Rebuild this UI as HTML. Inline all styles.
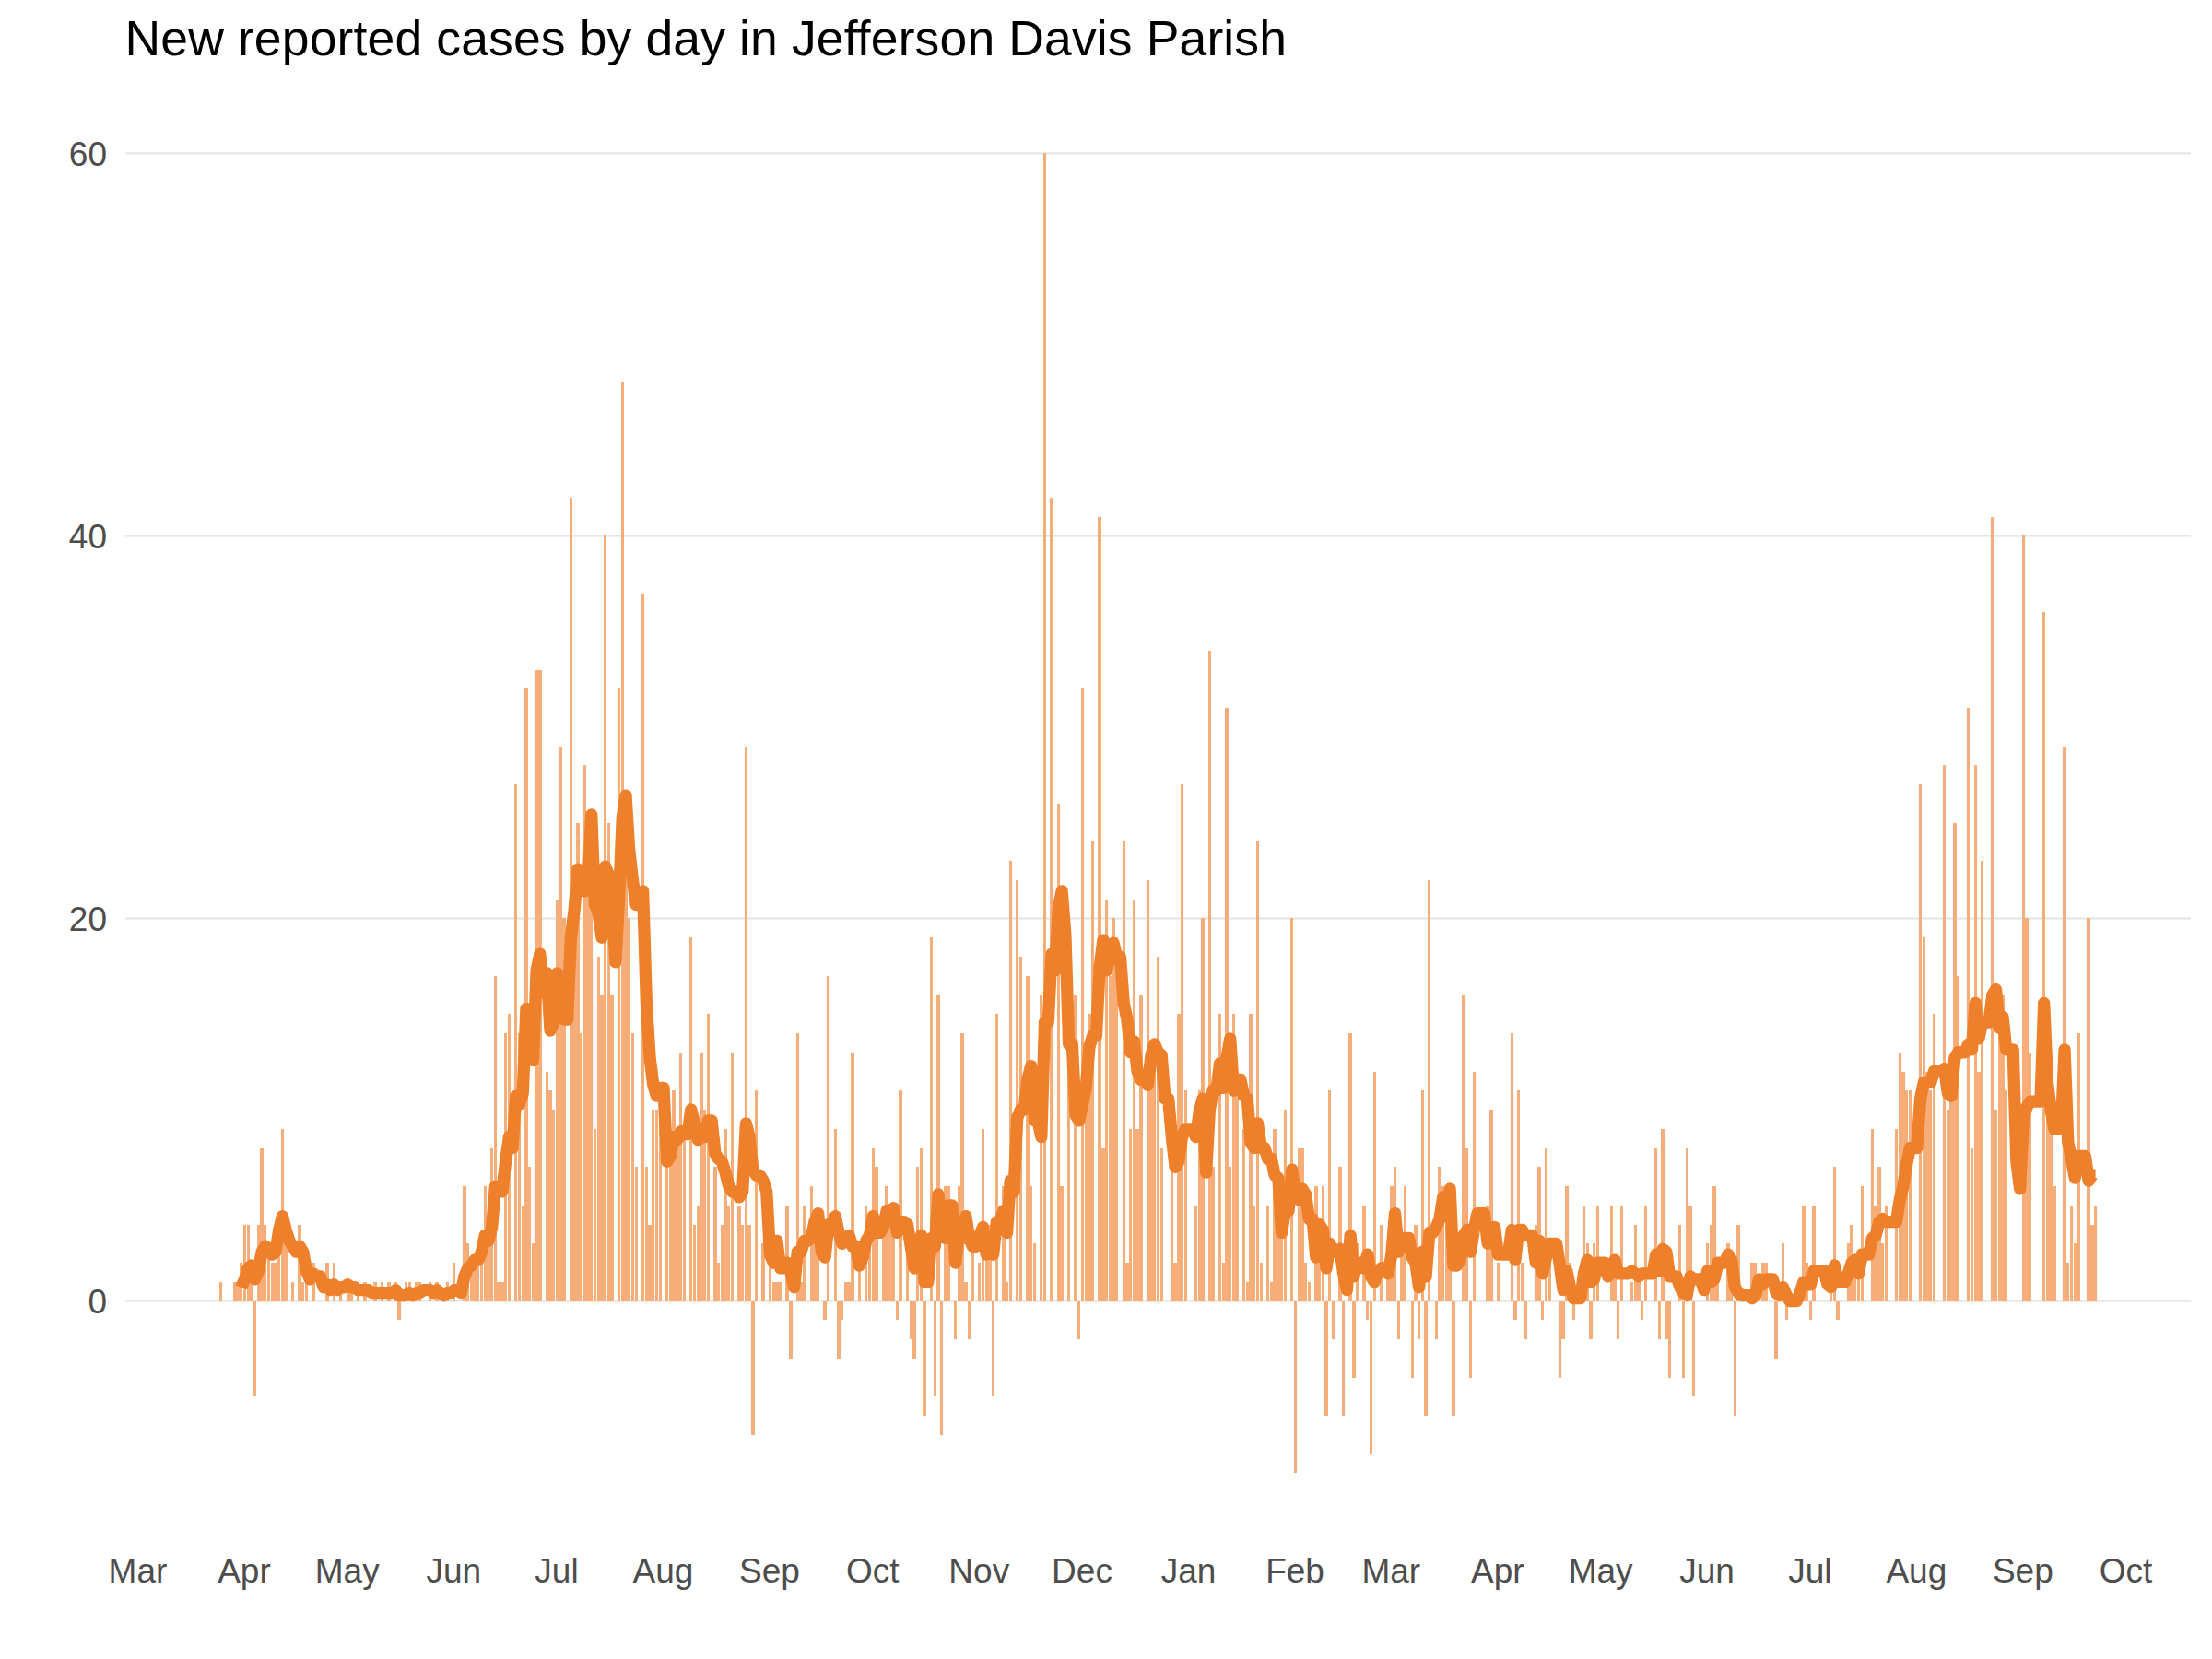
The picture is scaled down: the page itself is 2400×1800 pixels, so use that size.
<!DOCTYPE html>
<html><head><meta charset="utf-8"><title>New reported cases by day in Jefferson Davis Parish</title>
<style>
html,body{margin:0;padding:0;background:#fff;}
body{width:2400px;height:1800px;overflow:hidden;font-family:"Liberation Sans",sans-serif;}
svg{display:block;}
text{font-family:"Liberation Sans",sans-serif;}
</style></head><body>
<svg width="2400" height="1800" viewBox="0 0 2400 1800">
<rect width="2400" height="1800" fill="#ffffff"/>
<text x="135.5" y="60" font-size="53.5" fill="#000000" textLength="1260.5" lengthAdjust="spacing">New reported cases by day in Jefferson Davis Parish</text>
<g><rect x="136" y="1410.45" width="2241" height="2.2" fill="#e6e6e6"/><rect x="136" y="995.40" width="2241" height="2.2" fill="#e6e6e6"/><rect x="136" y="580.35" width="2241" height="2.2" fill="#e6e6e6"/><rect x="136" y="165.30" width="2241" height="2.2" fill="#e6e6e6"/></g>
<g font-size="37" fill="#4d4d4d"><text x="116" y="1424.75" text-anchor="end">0</text><text x="116" y="1009.70" text-anchor="end">20</text><text x="116" y="594.65" text-anchor="end">40</text><text x="116" y="179.60" text-anchor="end">60</text></g>
<g font-size="37" fill="#4d4d4d"><text x="149.46" y="1717.3" text-anchor="middle">Mar</text><text x="264.96" y="1717.3" text-anchor="middle">Apr</text><text x="376.73" y="1717.3" text-anchor="middle">May</text><text x="492.22" y="1717.3" text-anchor="middle">Jun</text><text x="603.99" y="1717.3" text-anchor="middle">Jul</text><text x="719.49" y="1717.3" text-anchor="middle">Aug</text><text x="834.98" y="1717.3" text-anchor="middle">Sep</text><text x="946.75" y="1717.3" text-anchor="middle">Oct</text><text x="1062.25" y="1717.3" text-anchor="middle">Nov</text><text x="1174.02" y="1717.3" text-anchor="middle">Dec</text><text x="1289.51" y="1717.3" text-anchor="middle">Jan</text><text x="1405.01" y="1717.3" text-anchor="middle">Feb</text><text x="1509.32" y="1717.3" text-anchor="middle">Mar</text><text x="1624.82" y="1717.3" text-anchor="middle">Apr</text><text x="1736.59" y="1717.3" text-anchor="middle">May</text><text x="1852.08" y="1717.3" text-anchor="middle">Jun</text><text x="1963.85" y="1717.3" text-anchor="middle">Jul</text><text x="2079.35" y="1717.3" text-anchor="middle">Aug</text><text x="2194.84" y="1717.3" text-anchor="middle">Sep</text><text x="2306.61" y="1717.3" text-anchor="middle">Oct</text></g>
<g fill="#f6ad77" fill-opacity="1" shape-rendering="crispEdges">
<rect x="238" y="1391" width="3" height="21"/><rect x="253" y="1391" width="3" height="21"/><rect x="256" y="1391" width="4" height="21"/><rect x="260" y="1370" width="3" height="42"/><rect x="264" y="1329" width="3" height="83"/><rect x="268" y="1329" width="3" height="83"/><rect x="271" y="1391" width="4" height="21"/><rect x="275" y="1412" width="3" height="103"/><rect x="279" y="1329" width="3" height="83"/><rect x="282" y="1246" width="4" height="166"/><rect x="286" y="1329" width="3" height="83"/><rect x="290" y="1349" width="3" height="63"/><rect x="294" y="1370" width="3" height="42"/><rect x="297" y="1370" width="4" height="42"/><rect x="301" y="1349" width="3" height="63"/><rect x="305" y="1225" width="3" height="187"/><rect x="308" y="1349" width="4" height="63"/><rect x="316" y="1391" width="3" height="21"/><rect x="323" y="1329" width="4" height="83"/><rect x="327" y="1391" width="3" height="21"/><rect x="331" y="1370" width="3" height="42"/><rect x="338" y="1370" width="4" height="42"/><rect x="353" y="1370" width="4" height="42"/><rect x="361" y="1370" width="3" height="42"/><rect x="368" y="1391" width="3" height="21"/><rect x="376" y="1391" width="3" height="21"/><rect x="379" y="1391" width="4" height="21"/><rect x="387" y="1391" width="3" height="21"/><rect x="394" y="1391" width="4" height="21"/><rect x="405" y="1391" width="4" height="21"/><rect x="413" y="1391" width="3" height="21"/><rect x="420" y="1391" width="4" height="21"/><rect x="428" y="1391" width="3" height="21"/><rect x="431" y="1412" width="4" height="20"/><rect x="439" y="1391" width="3" height="21"/><rect x="443" y="1391" width="3" height="21"/><rect x="450" y="1391" width="3" height="21"/><rect x="454" y="1391" width="3" height="21"/><rect x="465" y="1391" width="3" height="21"/><rect x="472" y="1391" width="4" height="21"/><rect x="484" y="1391" width="3" height="21"/><rect x="491" y="1370" width="3" height="42"/><rect x="502" y="1287" width="4" height="125"/><rect x="506" y="1349" width="3" height="63"/><rect x="510" y="1370" width="3" height="42"/><rect x="513" y="1370" width="4" height="42"/><rect x="517" y="1370" width="3" height="42"/><rect x="521" y="1349" width="3" height="63"/><rect x="525" y="1287" width="3" height="125"/><rect x="528" y="1329" width="4" height="83"/><rect x="532" y="1246" width="3" height="166"/><rect x="536" y="1059" width="3" height="353"/><rect x="539" y="1391" width="4" height="21"/><rect x="543" y="1391" width="4" height="21"/><rect x="547" y="1121" width="3" height="291"/><rect x="551" y="1100" width="3" height="312"/><rect x="558" y="851" width="3" height="561"/><rect x="562" y="1121" width="3" height="291"/><rect x="566" y="1308" width="3" height="104"/><rect x="569" y="747" width="4" height="665"/><rect x="573" y="1266" width="3" height="146"/><rect x="577" y="1349" width="3" height="63"/><rect x="580" y="727" width="4" height="685"/><rect x="584" y="727" width="4" height="685"/><rect x="592" y="1163" width="3" height="249"/><rect x="595" y="1183" width="4" height="229"/><rect x="599" y="1204" width="3" height="208"/><rect x="603" y="976" width="3" height="436"/><rect x="607" y="810" width="3" height="602"/><rect x="610" y="996" width="4" height="416"/><rect x="618" y="540" width="3" height="872"/><rect x="621" y="976" width="4" height="436"/><rect x="625" y="893" width="4" height="519"/><rect x="629" y="1121" width="3" height="291"/><rect x="633" y="830" width="3" height="582"/><rect x="636" y="913" width="4" height="499"/><rect x="640" y="913" width="3" height="499"/><rect x="644" y="1225" width="3" height="187"/><rect x="648" y="1038" width="3" height="374"/><rect x="651" y="1080" width="4" height="332"/><rect x="655" y="581" width="3" height="831"/><rect x="659" y="893" width="3" height="519"/><rect x="662" y="1080" width="4" height="332"/><rect x="670" y="747" width="3" height="665"/><rect x="674" y="415" width="3" height="997"/><rect x="677" y="913" width="4" height="499"/><rect x="681" y="996" width="3" height="416"/><rect x="685" y="1121" width="3" height="291"/><rect x="689" y="1266" width="3" height="146"/><rect x="696" y="644" width="3" height="768"/><rect x="700" y="1266" width="3" height="146"/><rect x="703" y="1329" width="4" height="83"/><rect x="707" y="1204" width="3" height="208"/><rect x="711" y="1204" width="3" height="208"/><rect x="715" y="1204" width="3" height="208"/><rect x="722" y="1204" width="3" height="208"/><rect x="726" y="1225" width="3" height="187"/><rect x="729" y="1183" width="4" height="229"/><rect x="733" y="1225" width="4" height="187"/><rect x="737" y="1142" width="3" height="270"/><rect x="741" y="1225" width="3" height="187"/><rect x="748" y="1017" width="3" height="395"/><rect x="752" y="1329" width="3" height="83"/><rect x="756" y="1308" width="3" height="104"/><rect x="759" y="1142" width="4" height="270"/><rect x="763" y="1204" width="3" height="208"/><rect x="767" y="1100" width="3" height="312"/><rect x="774" y="1266" width="4" height="146"/><rect x="778" y="1370" width="3" height="42"/><rect x="782" y="1329" width="3" height="83"/><rect x="785" y="1225" width="4" height="187"/><rect x="789" y="1308" width="3" height="104"/><rect x="793" y="1142" width="3" height="270"/><rect x="800" y="1308" width="4" height="104"/><rect x="804" y="1329" width="3" height="83"/><rect x="808" y="810" width="3" height="602"/><rect x="811" y="1329" width="4" height="83"/><rect x="815" y="1412" width="4" height="145"/><rect x="819" y="1183" width="3" height="229"/><rect x="826" y="1349" width="4" height="63"/><rect x="834" y="1287" width="3" height="125"/><rect x="838" y="1391" width="3" height="21"/><rect x="841" y="1391" width="4" height="21"/><rect x="845" y="1391" width="3" height="21"/><rect x="852" y="1308" width="4" height="104"/><rect x="856" y="1412" width="4" height="62"/><rect x="864" y="1121" width="3" height="291"/><rect x="867" y="1391" width="4" height="21"/><rect x="871" y="1308" width="3" height="104"/><rect x="879" y="1287" width="3" height="125"/><rect x="882" y="1349" width="4" height="63"/><rect x="886" y="1349" width="3" height="63"/><rect x="893" y="1412" width="4" height="20"/><rect x="897" y="1059" width="3" height="353"/><rect x="905" y="1225" width="3" height="187"/><rect x="908" y="1412" width="4" height="62"/><rect x="912" y="1412" width="3" height="20"/><rect x="916" y="1391" width="3" height="21"/><rect x="919" y="1391" width="4" height="21"/><rect x="923" y="1142" width="4" height="270"/><rect x="931" y="1370" width="3" height="42"/><rect x="938" y="1308" width="3" height="104"/><rect x="942" y="1349" width="3" height="63"/><rect x="946" y="1246" width="3" height="166"/><rect x="949" y="1266" width="4" height="146"/><rect x="957" y="1329" width="3" height="83"/><rect x="960" y="1287" width="4" height="125"/><rect x="964" y="1308" width="4" height="104"/><rect x="968" y="1329" width="3" height="83"/><rect x="972" y="1412" width="3" height="20"/><rect x="975" y="1183" width="4" height="229"/><rect x="983" y="1349" width="3" height="63"/><rect x="987" y="1412" width="3" height="41"/><rect x="990" y="1412" width="4" height="62"/><rect x="994" y="1266" width="3" height="146"/><rect x="998" y="1246" width="3" height="166"/><rect x="1001" y="1412" width="4" height="124"/><rect x="1009" y="1017" width="3" height="395"/><rect x="1013" y="1412" width="3" height="103"/><rect x="1016" y="1080" width="4" height="332"/><rect x="1020" y="1412" width="3" height="145"/><rect x="1024" y="1287" width="3" height="125"/><rect x="1028" y="1287" width="3" height="125"/><rect x="1035" y="1412" width="3" height="41"/><rect x="1039" y="1287" width="3" height="125"/><rect x="1042" y="1121" width="4" height="291"/><rect x="1046" y="1391" width="4" height="21"/><rect x="1050" y="1412" width="3" height="41"/><rect x="1054" y="1349" width="3" height="63"/><rect x="1061" y="1370" width="3" height="42"/><rect x="1065" y="1225" width="3" height="187"/><rect x="1069" y="1329" width="3" height="83"/><rect x="1072" y="1329" width="4" height="83"/><rect x="1076" y="1412" width="3" height="103"/><rect x="1080" y="1100" width="3" height="312"/><rect x="1087" y="1287" width="4" height="125"/><rect x="1091" y="1391" width="3" height="21"/><rect x="1095" y="934" width="3" height="478"/><rect x="1102" y="955" width="3" height="457"/><rect x="1106" y="1038" width="3" height="374"/><rect x="1113" y="1059" width="4" height="353"/><rect x="1117" y="1287" width="3" height="125"/><rect x="1121" y="1349" width="3" height="63"/><rect x="1128" y="1080" width="3" height="332"/><rect x="1132" y="166" width="3" height="1246"/><rect x="1139" y="540" width="4" height="872"/><rect x="1147" y="872" width="3" height="540"/><rect x="1150" y="1287" width="4" height="125"/><rect x="1158" y="996" width="3" height="416"/><rect x="1165" y="1080" width="4" height="332"/><rect x="1169" y="1412" width="3" height="41"/><rect x="1173" y="747" width="3" height="665"/><rect x="1177" y="1163" width="3" height="249"/><rect x="1180" y="1100" width="4" height="312"/><rect x="1184" y="913" width="3" height="499"/><rect x="1191" y="561" width="4" height="851"/><rect x="1195" y="1246" width="4" height="166"/><rect x="1199" y="976" width="3" height="436"/><rect x="1203" y="1059" width="3" height="353"/><rect x="1206" y="996" width="4" height="416"/><rect x="1210" y="1017" width="3" height="395"/><rect x="1218" y="913" width="3" height="499"/><rect x="1221" y="1370" width="4" height="42"/><rect x="1225" y="1225" width="3" height="187"/><rect x="1229" y="976" width="3" height="436"/><rect x="1232" y="1225" width="4" height="187"/><rect x="1236" y="1080" width="4" height="332"/><rect x="1244" y="955" width="3" height="457"/><rect x="1247" y="1142" width="4" height="270"/><rect x="1251" y="1142" width="3" height="270"/><rect x="1255" y="1038" width="3" height="374"/><rect x="1259" y="1246" width="3" height="166"/><rect x="1270" y="1246" width="3" height="166"/><rect x="1273" y="1370" width="4" height="42"/><rect x="1277" y="1100" width="4" height="312"/><rect x="1281" y="851" width="3" height="561"/><rect x="1285" y="1183" width="3" height="229"/><rect x="1296" y="1308" width="3" height="104"/><rect x="1300" y="1183" width="3" height="229"/><rect x="1303" y="996" width="4" height="416"/><rect x="1311" y="706" width="3" height="706"/><rect x="1314" y="1266" width="4" height="146"/><rect x="1322" y="1100" width="3" height="312"/><rect x="1326" y="1370" width="3" height="42"/><rect x="1329" y="768" width="4" height="644"/><rect x="1333" y="1266" width="3" height="146"/><rect x="1337" y="1100" width="3" height="312"/><rect x="1340" y="1183" width="4" height="229"/><rect x="1348" y="1225" width="3" height="187"/><rect x="1352" y="1391" width="3" height="21"/><rect x="1355" y="1100" width="4" height="312"/><rect x="1359" y="1308" width="3" height="104"/><rect x="1363" y="913" width="3" height="499"/><rect x="1367" y="1370" width="3" height="42"/><rect x="1374" y="1308" width="3" height="104"/><rect x="1378" y="1391" width="3" height="21"/><rect x="1381" y="1225" width="4" height="187"/><rect x="1385" y="1329" width="4" height="83"/><rect x="1389" y="1329" width="3" height="83"/><rect x="1393" y="1204" width="3" height="208"/><rect x="1400" y="996" width="3" height="416"/><rect x="1404" y="1412" width="3" height="186"/><rect x="1408" y="1246" width="3" height="166"/><rect x="1411" y="1246" width="4" height="166"/><rect x="1415" y="1370" width="3" height="42"/><rect x="1419" y="1391" width="3" height="21"/><rect x="1426" y="1287" width="4" height="125"/><rect x="1430" y="1349" width="3" height="63"/><rect x="1434" y="1287" width="3" height="125"/><rect x="1437" y="1412" width="4" height="124"/><rect x="1441" y="1183" width="3" height="229"/><rect x="1445" y="1412" width="3" height="41"/><rect x="1452" y="1266" width="4" height="146"/><rect x="1456" y="1412" width="3" height="124"/><rect x="1463" y="1121" width="4" height="291"/><rect x="1467" y="1412" width="4" height="83"/><rect x="1471" y="1349" width="3" height="63"/><rect x="1478" y="1308" width="4" height="104"/><rect x="1482" y="1412" width="3" height="20"/><rect x="1486" y="1412" width="3" height="166"/><rect x="1490" y="1163" width="3" height="249"/><rect x="1497" y="1329" width="3" height="83"/><rect x="1504" y="1349" width="4" height="63"/><rect x="1508" y="1287" width="4" height="125"/><rect x="1512" y="1266" width="3" height="146"/><rect x="1516" y="1412" width="3" height="41"/><rect x="1519" y="1349" width="4" height="63"/><rect x="1523" y="1287" width="3" height="125"/><rect x="1531" y="1412" width="3" height="83"/><rect x="1534" y="1329" width="4" height="83"/><rect x="1538" y="1412" width="3" height="41"/><rect x="1542" y="1183" width="3" height="229"/><rect x="1545" y="1412" width="4" height="124"/><rect x="1549" y="955" width="3" height="457"/><rect x="1557" y="1412" width="3" height="41"/><rect x="1560" y="1266" width="4" height="146"/><rect x="1564" y="1287" width="3" height="125"/><rect x="1568" y="1329" width="3" height="83"/><rect x="1571" y="1329" width="4" height="83"/><rect x="1575" y="1412" width="4" height="124"/><rect x="1586" y="1080" width="4" height="332"/><rect x="1590" y="1246" width="3" height="166"/><rect x="1594" y="1412" width="3" height="83"/><rect x="1598" y="1163" width="3" height="249"/><rect x="1612" y="1308" width="4" height="104"/><rect x="1616" y="1204" width="4" height="208"/><rect x="1624" y="1370" width="3" height="42"/><rect x="1639" y="1121" width="3" height="291"/><rect x="1642" y="1412" width="4" height="20"/><rect x="1646" y="1183" width="3" height="229"/><rect x="1650" y="1370" width="3" height="42"/><rect x="1653" y="1412" width="4" height="41"/><rect x="1665" y="1329" width="3" height="83"/><rect x="1668" y="1266" width="4" height="146"/><rect x="1672" y="1412" width="3" height="20"/><rect x="1676" y="1246" width="3" height="166"/><rect x="1680" y="1349" width="3" height="63"/><rect x="1691" y="1412" width="3" height="83"/><rect x="1694" y="1412" width="4" height="41"/><rect x="1698" y="1287" width="4" height="125"/><rect x="1702" y="1370" width="3" height="42"/><rect x="1706" y="1412" width="3" height="20"/><rect x="1717" y="1308" width="3" height="104"/><rect x="1721" y="1349" width="3" height="63"/><rect x="1724" y="1412" width="4" height="41"/><rect x="1728" y="1349" width="3" height="63"/><rect x="1732" y="1308" width="3" height="104"/><rect x="1747" y="1308" width="3" height="104"/><rect x="1750" y="1370" width="4" height="42"/><rect x="1754" y="1412" width="3" height="41"/><rect x="1758" y="1308" width="3" height="104"/><rect x="1769" y="1391" width="3" height="21"/><rect x="1773" y="1329" width="3" height="83"/><rect x="1776" y="1391" width="4" height="21"/><rect x="1780" y="1412" width="3" height="20"/><rect x="1784" y="1308" width="3" height="104"/><rect x="1795" y="1246" width="3" height="166"/><rect x="1799" y="1412" width="3" height="41"/><rect x="1802" y="1225" width="4" height="187"/><rect x="1806" y="1412" width="4" height="41"/><rect x="1810" y="1412" width="3" height="83"/><rect x="1821" y="1329" width="3" height="83"/><rect x="1825" y="1412" width="3" height="83"/><rect x="1829" y="1246" width="3" height="166"/><rect x="1832" y="1308" width="4" height="104"/><rect x="1836" y="1412" width="3" height="103"/><rect x="1851" y="1349" width="3" height="63"/><rect x="1855" y="1329" width="3" height="83"/><rect x="1858" y="1287" width="4" height="125"/><rect x="1862" y="1391" width="3" height="21"/><rect x="1873" y="1349" width="4" height="63"/><rect x="1877" y="1391" width="3" height="21"/><rect x="1881" y="1412" width="3" height="124"/><rect x="1884" y="1329" width="4" height="83"/><rect x="1899" y="1370" width="4" height="42"/><rect x="1903" y="1370" width="3" height="42"/><rect x="1911" y="1370" width="3" height="42"/><rect x="1914" y="1370" width="4" height="42"/><rect x="1925" y="1412" width="4" height="62"/><rect x="1929" y="1391" width="3" height="21"/><rect x="1933" y="1349" width="3" height="63"/><rect x="1937" y="1412" width="3" height="20"/><rect x="1955" y="1308" width="4" height="104"/><rect x="1959" y="1370" width="3" height="42"/><rect x="1963" y="1412" width="3" height="20"/><rect x="1966" y="1308" width="4" height="104"/><rect x="1985" y="1391" width="3" height="21"/><rect x="1989" y="1266" width="3" height="146"/><rect x="1992" y="1412" width="4" height="20"/><rect x="2004" y="1349" width="3" height="63"/><rect x="2007" y="1329" width="4" height="83"/><rect x="2011" y="1370" width="3" height="42"/><rect x="2015" y="1370" width="3" height="42"/><rect x="2019" y="1287" width="3" height="125"/><rect x="2030" y="1225" width="3" height="187"/><rect x="2033" y="1308" width="4" height="104"/><rect x="2037" y="1266" width="4" height="146"/><rect x="2041" y="1349" width="3" height="63"/><rect x="2045" y="1308" width="3" height="104"/><rect x="2056" y="1225" width="3" height="187"/><rect x="2060" y="1142" width="3" height="270"/><rect x="2063" y="1163" width="4" height="249"/><rect x="2067" y="1183" width="3" height="229"/><rect x="2071" y="1183" width="3" height="229"/><rect x="2082" y="851" width="3" height="561"/><rect x="2086" y="1017" width="3" height="395"/><rect x="2089" y="1163" width="4" height="249"/><rect x="2093" y="1183" width="3" height="229"/><rect x="2097" y="1100" width="3" height="312"/><rect x="2108" y="830" width="3" height="582"/><rect x="2112" y="1204" width="3" height="208"/><rect x="2115" y="1183" width="4" height="229"/><rect x="2119" y="893" width="4" height="519"/><rect x="2123" y="1059" width="3" height="353"/><rect x="2134" y="768" width="3" height="644"/><rect x="2138" y="1246" width="3" height="166"/><rect x="2142" y="830" width="3" height="582"/><rect x="2145" y="1163" width="4" height="249"/><rect x="2149" y="934" width="3" height="478"/><rect x="2160" y="561" width="3" height="851"/><rect x="2164" y="1204" width="3" height="208"/><rect x="2168" y="1121" width="3" height="291"/><rect x="2171" y="1080" width="4" height="332"/><rect x="2175" y="1183" width="3" height="229"/><rect x="2194" y="581" width="3" height="831"/><rect x="2197" y="996" width="4" height="416"/><rect x="2201" y="1142" width="3" height="270"/><rect x="2216" y="664" width="3" height="748"/><rect x="2220" y="1183" width="3" height="229"/><rect x="2223" y="1204" width="4" height="208"/><rect x="2227" y="1287" width="4" height="125"/><rect x="2238" y="810" width="4" height="602"/><rect x="2242" y="1370" width="3" height="42"/><rect x="2246" y="1308" width="3" height="104"/><rect x="2250" y="1349" width="3" height="63"/><rect x="2253" y="1121" width="4" height="291"/><rect x="2264" y="996" width="4" height="416"/><rect x="2268" y="1329" width="4" height="83"/><rect x="2272" y="1308" width="3" height="104"/>
</g>
<polyline fill="none" stroke="#ee802b" stroke-width="13.3" stroke-linejoin="round" stroke-linecap="butt" points="261.73,1396.73 265.46,1387.83 269.18,1375.97 272.91,1373.01 276.63,1387.83 280.36,1378.94 284.09,1358.19 287.81,1352.26 291.54,1355.22 295.26,1361.15 298.99,1358.19 302.71,1334.47 306.44,1319.65 310.17,1334.47 313.89,1346.33 317.62,1352.26 321.34,1358.19 325.07,1352.26 328.79,1358.19 332.52,1378.94 336.24,1387.83 339.97,1381.90 343.70,1384.87 347.42,1384.87 351.15,1396.73 354.87,1393.76 358.60,1399.69 362.32,1393.76 366.05,1399.69 369.78,1396.73 373.50,1396.73 377.23,1393.76 380.95,1396.73 384.68,1396.73 388.40,1399.69 392.13,1399.69 395.86,1399.69 399.58,1399.69 403.31,1402.66 407.03,1402.66 410.76,1402.66 414.48,1402.66 418.21,1402.66 421.93,1402.66 425.66,1402.66 429.39,1399.69 433.11,1405.62 436.84,1405.62 440.56,1405.62 444.29,1402.66 448.01,1405.62 451.74,1402.66 455.47,1402.66 459.19,1399.69 462.92,1399.69 466.64,1399.69 470.37,1402.66 474.09,1399.69 477.82,1402.66 481.55,1405.62 485.27,1402.66 489.00,1402.66 492.72,1399.69 496.45,1399.69 500.17,1402.66 503.90,1384.87 507.62,1375.97 511.35,1373.01 515.08,1367.08 518.80,1367.08 522.53,1358.19 526.25,1340.40 529.98,1346.33 533.70,1331.50 537.43,1287.03 541.16,1290.00 544.88,1292.96 548.61,1260.35 552.33,1233.67 556.06,1245.53 559.78,1189.20 563.51,1198.10 567.24,1186.24 570.96,1094.33 574.69,1115.09 578.41,1150.66 582.14,1052.83 585.86,1035.04 589.59,1076.55 593.31,1055.79 597.04,1118.05 600.77,1109.16 604.49,1055.79 608.22,1067.65 611.94,1106.19 615.67,1106.19 619.39,1017.25 623.12,987.61 626.85,943.14 630.57,963.89 634.30,966.85 638.02,954.99 641.75,883.84 645.47,981.68 649.20,990.57 652.93,1017.25 656.65,940.17 660.38,949.07 664.10,972.78 667.83,1043.93 671.55,975.75 675.28,886.81 679.00,863.09 682.73,922.38 686.46,954.99 690.18,981.68 693.91,981.68 697.63,966.85 701.36,1088.40 705.08,1147.70 708.81,1177.34 712.54,1189.20 716.26,1180.31 719.99,1180.31 723.71,1260.35 727.44,1254.42 731.16,1233.67 734.89,1236.64 738.62,1227.74 742.34,1230.71 746.07,1230.71 749.79,1204.02 753.52,1218.85 757.24,1236.64 760.97,1224.78 764.69,1233.67 768.42,1215.88 772.15,1215.88 775.87,1251.46 779.60,1257.39 783.32,1260.35 787.05,1272.21 790.77,1287.03 794.50,1292.96 798.23,1292.96 801.95,1298.89 805.68,1292.96 809.40,1218.85 813.13,1233.67 816.85,1269.25 820.58,1275.18 824.31,1275.18 828.03,1281.11 831.76,1292.96 835.48,1361.15 839.21,1370.04 842.93,1346.33 846.66,1375.97 850.38,1375.97 854.11,1370.04 857.84,1378.94 861.56,1396.73 865.29,1358.19 869.01,1358.19 872.74,1346.33 876.46,1346.33 880.19,1343.36 883.92,1325.58 887.64,1316.68 891.37,1358.19 895.09,1364.12 898.82,1328.54 902.54,1328.54 906.27,1319.65 909.99,1337.43 913.72,1349.29 917.45,1346.33 921.17,1340.40 924.90,1352.26 928.62,1352.26 932.35,1373.01 936.07,1364.12 939.80,1346.33 943.53,1340.40 947.25,1319.65 950.98,1337.43 954.70,1337.43 958.43,1331.50 962.15,1313.72 965.88,1313.72 969.61,1310.75 973.33,1337.43 977.06,1325.58 980.78,1325.58 984.51,1328.54 988.23,1352.26 991.96,1375.97 995.68,1367.08 999.41,1340.40 1003.14,1390.80 1006.86,1390.80 1010.59,1343.36 1014.31,1352.26 1018.04,1295.93 1021.76,1337.43 1025.49,1343.36 1029.22,1307.79 1032.94,1307.79 1036.67,1370.04 1040.39,1337.43 1044.12,1343.36 1047.84,1319.65 1051.57,1343.36 1055.30,1352.26 1059.02,1352.26 1062.75,1340.40 1066.47,1331.50 1070.20,1361.15 1073.92,1352.26 1077.65,1361.15 1081.37,1325.58 1085.10,1325.58 1088.83,1313.72 1092.55,1337.43 1096.28,1281.11 1100.00,1292.96 1103.73,1212.92 1107.45,1204.02 1111.18,1204.02 1114.91,1171.41 1118.63,1156.59 1122.36,1215.88 1126.08,1215.88 1129.81,1233.67 1133.53,1109.16 1137.26,1109.16 1140.99,1035.04 1144.71,1052.83 1148.44,984.64 1152.16,966.85 1155.89,1014.29 1159.61,1132.87 1163.34,1132.87 1167.06,1209.95 1170.79,1215.88 1174.52,1198.10 1178.24,1180.31 1181.97,1135.84 1185.69,1123.98 1189.42,1123.98 1193.14,1049.86 1196.87,1020.22 1200.60,1052.83 1204.32,1038.00 1208.05,1023.18 1211.77,1038.00 1215.50,1038.00 1219.22,1088.40 1222.95,1106.19 1226.68,1141.77 1230.40,1129.91 1234.13,1162.52 1237.85,1171.41 1241.58,1171.41 1245.30,1177.34 1249.03,1144.73 1252.75,1132.87 1256.48,1141.77 1260.21,1144.73 1263.93,1192.17 1267.66,1192.17 1271.38,1233.67 1275.11,1266.28 1278.83,1260.35 1282.56,1233.67 1286.29,1224.78 1290.01,1224.78 1293.74,1224.78 1297.46,1233.67 1301.19,1206.99 1304.91,1192.17 1308.64,1272.21 1312.37,1204.02 1316.09,1183.27 1319.82,1183.27 1323.54,1153.63 1327.27,1180.31 1330.99,1147.70 1334.72,1126.94 1338.44,1183.27 1342.17,1171.41 1345.90,1171.41 1349.62,1189.20 1353.35,1192.17 1357.07,1239.60 1360.80,1245.53 1364.52,1218.85 1368.25,1245.53 1371.98,1245.53 1375.70,1257.39 1379.43,1257.39 1383.15,1275.18 1386.88,1278.14 1390.60,1337.43 1394.33,1313.72 1398.06,1313.72 1401.78,1269.25 1405.51,1298.89 1409.23,1301.86 1412.96,1290.00 1416.68,1295.93 1420.41,1322.61 1424.13,1322.61 1427.86,1364.12 1431.59,1328.54 1435.31,1334.47 1439.04,1375.97 1442.76,1349.29 1446.49,1358.19 1450.21,1358.19 1453.94,1355.22 1457.67,1381.90 1461.39,1399.69 1465.12,1340.40 1468.84,1384.87 1472.57,1370.04 1476.29,1370.04 1480.02,1375.97 1483.75,1361.15 1487.47,1384.87 1491.20,1390.80 1494.92,1378.94 1498.65,1375.97 1502.37,1375.97 1506.10,1381.90 1509.82,1361.15 1513.55,1316.68 1517.28,1358.19 1521.00,1349.29 1524.73,1343.36 1528.45,1343.36 1532.18,1364.12 1535.90,1370.04 1539.63,1396.73 1543.36,1358.19 1547.08,1384.87 1550.81,1337.43 1554.53,1337.43 1558.26,1331.50 1561.98,1322.61 1565.71,1298.89 1569.44,1319.65 1573.16,1290.00 1576.89,1373.01 1580.61,1373.01 1584.34,1367.08 1588.06,1340.40 1591.79,1334.47 1595.51,1358.19 1599.24,1334.47 1602.97,1316.68 1606.69,1316.68 1610.42,1316.68 1614.14,1349.29 1617.87,1343.36 1621.59,1331.50 1625.32,1361.15 1629.05,1361.15 1632.77,1361.15 1636.50,1361.15 1640.22,1334.47 1643.95,1367.08 1647.67,1334.47 1651.40,1334.47 1655.12,1340.40 1658.85,1340.40 1662.58,1340.40 1666.30,1370.04 1670.03,1346.33 1673.75,1381.90 1677.48,1364.12 1681.20,1349.29 1684.93,1349.29 1688.66,1349.29 1692.38,1373.01 1696.11,1399.69 1699.83,1378.94 1703.56,1396.73 1707.28,1408.59 1711.01,1408.59 1714.74,1408.59 1718.46,1381.90 1722.19,1367.08 1725.91,1390.80 1729.64,1387.83 1733.36,1370.04 1737.09,1370.04 1740.81,1370.04 1744.54,1384.87 1748.27,1378.94 1751.99,1367.08 1755.72,1381.90 1759.44,1381.90 1763.17,1381.90 1766.89,1381.90 1770.62,1378.94 1774.35,1381.90 1778.07,1384.87 1781.80,1381.90 1785.52,1381.90 1789.25,1381.90 1792.97,1381.90 1796.70,1361.15 1800.43,1378.94 1804.15,1355.22 1807.88,1358.19 1811.60,1384.87 1815.33,1384.87 1819.05,1384.87 1822.78,1396.73 1826.50,1402.66 1830.23,1405.62 1833.96,1384.87 1837.68,1387.83 1841.41,1387.83 1845.13,1387.83 1848.86,1399.69 1852.58,1378.94 1856.31,1390.80 1860.04,1387.83 1863.76,1370.04 1867.49,1370.04 1871.21,1370.04 1874.94,1361.15 1878.66,1367.08 1882.39,1396.73 1886.12,1402.66 1889.84,1405.62 1893.57,1405.62 1897.29,1405.62 1901.02,1408.59 1904.74,1405.62 1908.47,1387.83 1912.19,1393.76 1915.92,1387.83 1919.65,1387.83 1923.37,1387.83 1927.10,1402.66 1930.82,1405.62 1934.55,1396.73 1938.27,1405.62 1942.00,1411.55 1945.73,1411.55 1949.45,1411.55 1953.18,1402.66 1956.90,1390.80 1960.63,1393.76 1964.35,1393.76 1968.08,1378.94 1971.81,1378.94 1975.53,1378.94 1979.26,1378.94 1982.98,1393.76 1986.71,1396.73 1990.43,1373.01 1994.16,1390.80 1997.88,1390.80 2001.61,1390.80 2005.34,1381.90 2009.06,1370.04 2012.79,1367.08 2016.51,1381.90 2020.24,1361.15 2023.96,1361.15 2027.69,1361.15 2031.42,1343.36 2035.14,1340.40 2038.87,1325.58 2042.59,1322.61 2046.32,1325.58 2050.04,1325.58 2053.77,1325.58 2057.50,1325.58 2061.22,1301.86 2064.95,1287.03 2068.67,1263.32 2072.40,1245.53 2076.12,1245.53 2079.85,1245.53 2083.57,1192.17 2087.30,1174.38 2091.03,1174.38 2094.75,1174.38 2098.48,1162.52 2102.20,1162.52 2105.93,1162.52 2109.65,1159.56 2113.38,1186.24 2117.11,1189.20 2120.83,1147.70 2124.56,1141.77 2128.28,1141.77 2132.01,1141.77 2135.73,1132.87 2139.46,1138.80 2143.19,1088.40 2146.91,1126.94 2150.64,1109.16 2154.36,1109.16 2158.09,1109.16 2161.81,1079.51 2165.54,1073.58 2169.26,1115.09 2172.99,1103.23 2176.72,1138.80 2180.44,1138.80 2184.17,1138.80 2187.89,1260.35 2191.62,1290.00 2195.34,1212.92 2199.07,1201.06 2202.80,1195.13 2206.52,1195.13 2210.25,1195.13 2213.97,1195.13 2217.70,1088.40 2221.42,1174.38 2225.15,1204.02 2228.88,1224.78 2232.60,1224.78 2236.33,1224.78 2240.05,1138.80 2243.78,1239.60 2247.50,1257.39 2251.23,1278.14 2254.95,1254.42 2258.68,1254.42 2262.41,1254.42 2266.13,1281.11 2269.86,1275.18 2273.58,1275.18"/>
</svg>
</body></html>
